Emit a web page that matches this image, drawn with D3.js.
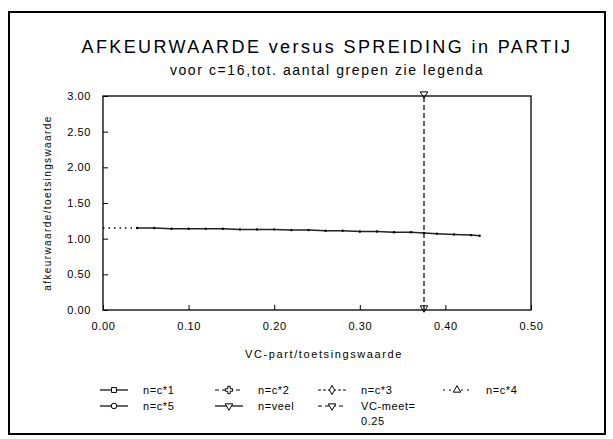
<!DOCTYPE html>
<html><head><meta charset="utf-8">
<script src="https://cdn.jsdelivr.net/npm/d3@7"></script>
<style>body{margin:0;background:#fff}svg{display:block;font-family:"Liberation Sans",Arial,sans-serif}</style>
</head><body><svg id="c" width="613" height="439"></svg>
<script>
const title = "AFKEURWAARDE versus SPREIDING in PARTIJ";
const subtitle = "voor c=16,tot. aantal grepen zie legenda";
const xLabel = "VC-part/toetsingswaarde";
const yLabel = "afkeurwaarde/toetsingswaarde";
const xTicks = [0, 0.1, 0.2, 0.3, 0.4, 0.5];
const yTicks = [0, 0.5, 1.0, 1.5, 2.0, 2.5, 3.0];
const spreadX = [0.00,0.01,0.02,0.03,0.04,0.06,0.08,0.10,0.12,0.14,0.16,0.18,0.20,0.22,0.24,0.26,0.28,0.30,0.32,0.34,0.36,0.375,0.39,0.41,0.43,0.44];
const rejectY = [1.15,1.15,1.15,1.15,1.15,1.15,1.14,1.14,1.14,1.14,1.13,1.13,1.13,1.12,1.12,1.11,1.11,1.10,1.10,1.09,1.09,1.08,1.07,1.06,1.05,1.04];
const vcMeetX = [0.375, 0.375];
const vcMeetY = [0, 3.0];
const legendLabels = ["n=c*1","n=c*2","n=c*3","n=c*4","n=c*5","n=veel","VC-meet="];

const svg = d3.select("#c");
svg.append("rect").attr("x",9).attr("y",12).attr("width",596).attr("height",422)
  .attr("fill","none").attr("stroke","#000").attr("stroke-width",2);

const x = d3.scaleLinear().domain([0,0.5]).range([103,531]);
const y = d3.scaleLinear().domain([0,3]).range([310,96]);

svg.append("text").attr("x",327).attr("y",53).attr("text-anchor","middle")
  .attr("font-size",18).attr("font-weight",300).attr("letter-spacing",2.4).text(title);
svg.append("text").attr("x",327).attr("y",75).attr("text-anchor","middle")
  .attr("font-size",14).attr("letter-spacing",1.6).text(subtitle);

// frame
svg.append("rect").attr("x",x(0)).attr("y",y(3)).attr("width",x(0.5)-x(0)).attr("height",y(0)-y(3))
  .attr("fill","none").attr("stroke","#000").attr("stroke-width",1.3);

const gx = svg.append("g").attr("transform",`translate(0,${y(0)})`)
  .call(d3.axisBottom(x).tickValues(xTicks).tickFormat(d3.format(".2f")).tickSize(-5).tickPadding(12));
gx.select(".domain").remove();
gx.selectAll("text").attr("font-size",11).attr("letter-spacing",0.6).attr("fill","#000");
const gy = svg.append("g").attr("transform",`translate(${x(0)},0)`)
  .call(d3.axisLeft(y).tickValues(yTicks).tickFormat(d3.format(".2f")).tickSize(-5).tickPadding(12));
gy.select(".domain").remove();
gy.selectAll("text").attr("font-size",11).attr("letter-spacing",0.6).attr("fill","#000");

svg.append("text").attr("x",324).attr("y",358).attr("text-anchor","middle").attr("font-size",11)
  .attr("letter-spacing",1.6).text(xLabel);
svg.append("text").attr("transform",`translate(51,203) rotate(-90)`).attr("text-anchor","middle")
  .attr("font-size",10).attr("letter-spacing",1.4).text(yLabel);

// data line
const pts = spreadX.map((d,i)=>[d,rejectY[i]]);
const line = d3.line().x(d=>x(d[0])).y(d=>y(d[1]));
svg.append("path").datum(pts.filter(d=>d[0]<=0.04)).attr("d",line).attr("fill","none")
  .attr("stroke","#000").attr("stroke-width",1.6).attr("stroke-dasharray","1.5,4");
svg.append("path").datum(pts.filter(d=>d[0]>=0.04)).attr("d",line).attr("fill","none")
  .attr("stroke","#222").attr("stroke-width",1.5);
svg.selectAll(".pt").data(pts.filter(d=>d[0]>=0.04)).join("circle")
  .attr("cx",d=>x(d[0])).attr("cy",d=>y(d[1])).attr("r",1.2).attr("fill","#000");

// VC-meet
const vpts = vcMeetX.map((d,i)=>[d,vcMeetY[i]]);
svg.append("path").datum(vpts).attr("d",line).attr("fill","none").attr("stroke","#000")
  .attr("stroke-width",1.2).attr("stroke-dasharray","5,3");
const tri = d3.symbol().type(d3.symbolTriangle).size(24);
vpts.forEach(d=>{
  svg.append("path").attr("d",tri).attr("transform",`translate(${x(d[0])},${y(d[1])-2}) rotate(180)`)
    .attr("fill","none").attr("stroke","#000").attr("stroke-width",1);
});

// legend
const legPos = [[100,390],[215,390],[318,390],[443,390],[100,406],[215,406],[318,406]];
const dashes = [null,"4,3","3,2","2,4",null,null,"4,3"];
const syms = [d3.symbolSquare,d3.symbolCross,d3.symbolDiamond,d3.symbolTriangle,d3.symbolCircle,d3.symbolTriangle,d3.symbolTriangle];
legendLabels.forEach((lab,i)=>{
  const [lx,ly] = legPos[i];
  const g = svg.append("g");
  g.append("line").attr("x1",lx).attr("x2",lx+28).attr("y1",ly).attr("y2",ly)
    .attr("stroke","#000").attr("stroke-width",1.2).attr("stroke-dasharray",dashes[i]);
  g.append("path").attr("d",d3.symbol().type(syms[i]).size(i===1?30:24))
    .attr("transform",`translate(${lx+14},${ly})` + (i>=5?" rotate(180)":""))
    .attr("fill","#fff").attr("stroke","#000").attr("stroke-width",1);
  g.append("text").attr("x",lx+43).attr("y",ly+4).attr("font-size",11).attr("letter-spacing",0.6).text(lab);
  if(i===6) g.append("text").attr("x",lx+43).attr("y",ly+19).attr("font-size",11).attr("letter-spacing",0.6).text("0.25");
});
</script></body></html>
